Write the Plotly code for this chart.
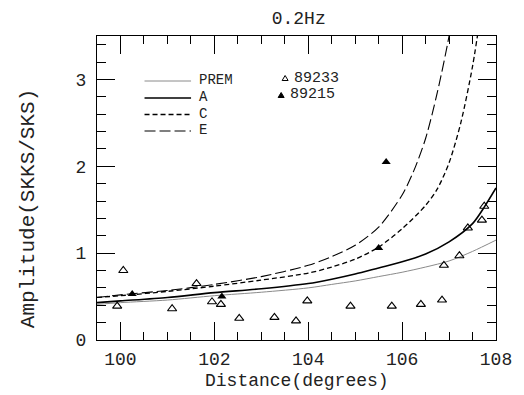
import plotly.graph_objects as go

# ---- data ----
dist_prem = [99.5, 100, 101, 102, 103, 104, 104.5, 105, 105.5, 106, 106.5, 107, 107.5, 108]
amp_prem = [0.41, 0.43, 0.46, 0.51, 0.55, 0.60, 0.64, 0.68, 0.73, 0.78, 0.84, 0.91, 1.02, 1.15]

dist_a = [99.5, 100, 101, 102, 103, 104, 104.5, 105, 105.5, 106, 106.5, 107, 107.5, 107.75, 108]
amp_a = [0.43, 0.45, 0.49, 0.545, 0.59, 0.65, 0.70, 0.76, 0.83, 0.90, 0.99, 1.13, 1.34, 1.53, 1.75]

dist_c = [99.5, 100, 101, 102, 103, 104, 104.5, 105, 105.5, 106, 106.5, 106.75, 107, 107.25, 107.5, 107.7]
amp_c = [0.49, 0.51, 0.56, 0.62, 0.69, 0.77, 0.84, 0.93, 1.07, 1.28, 1.55, 1.74, 2.04, 2.50, 3.15, 3.85]

dist_e = [99.5, 100, 101, 102, 103, 104, 104.5, 105, 105.5, 106, 106.25, 106.5, 106.75, 107, 107.1]
amp_e = [0.49, 0.52, 0.57, 0.64, 0.73, 0.86, 0.96, 1.09, 1.30, 1.67, 1.95, 2.32, 2.85, 3.50, 3.85]

dist_89233 = [99.93, 100.06, 101.1, 101.62, 101.95, 102.14, 102.53, 103.28, 103.74, 103.98,
              104.9, 105.78, 106.4, 106.85, 106.89, 107.22, 107.4, 107.7, 107.75]
amp_89233 = [0.39, 0.80, 0.36, 0.65, 0.44, 0.41, 0.25, 0.26, 0.22, 0.45,
             0.39, 0.39, 0.41, 0.46, 0.86, 0.97, 1.29, 1.38, 1.54]

dist_89215 = [100.25, 102.16, 105.5, 105.66]
amp_89215 = [0.53, 0.50, 1.06, 2.05]

line_names = ["PREM", "A", "C", "E"]
event_names = ["89233", "89215"]

FONT = "Liberation Mono"
TXT = "#222"

# plot area in pixels (for placing the hand-made legend)
W, H = 524, 395
ML, MR, MT, MB = 97, 24, 36, 55
PW, PH = W - ML - MR, H - MT - MB


def px(xp):
    return (xp - ML) / PW


def py(yp):
    return (H - MB - yp) / PH


styles = [
    dict(color="#8a8a8a", width=1),
    dict(color="black", width=1.6),
    dict(color="black", width=1.3, dash="5px,3px"),
    dict(color="black", width=1.1, dash="11px,4px"),
]

fig = go.Figure()
for name, xs, ys, st in zip(line_names, [dist_prem, dist_a, dist_c, dist_e],
                            [amp_prem, amp_a, amp_c, amp_e], styles):
    fig.add_trace(go.Scatter(x=xs, y=ys, mode="lines", name=name,
                             line=dict(shape="spline", smoothing=0.8, **st)))
fig.add_trace(go.Scatter(x=dist_89233, y=amp_89233, mode="markers", name=event_names[0],
                         marker=dict(symbol="triangle-up-open", size=8, color="black", line=dict(width=1.1))))
fig.add_trace(go.Scatter(x=dist_89215, y=amp_89215, mode="markers", name=event_names[1],
                         marker=dict(symbol="triangle-up", size=8, color="black")))

shapes = []
annotations = []
# legend for the model curves
row_y = [81, 98, 114.5, 131]
for name, st, yy in zip(line_names, styles, row_y):
    shapes.append(dict(type="line", xref="paper", yref="paper", x0=px(145), x1=px(192),
                       y0=py(yy), y1=py(yy), line=st))
    annotations.append(dict(text=name, xref="paper", yref="paper", x=px(199), y=py(yy - 1),
                            xanchor="left", yanchor="middle", showarrow=False, borderpad=0,
                            font=dict(family=FONT, size=14, color=TXT)))
# legend for the events
tri = "M-3,-2.5 L3,-2.5 L0,2.5 Z"
shapes.append(dict(type="path", xref="paper", yref="paper", xsizemode="pixel", ysizemode="pixel",
                   xanchor=px(287), yanchor=py(78), path=tri,
                   line=dict(color="black", width=1), fillcolor="white"))
shapes.append(dict(type="path", xref="paper", yref="paper", xsizemode="pixel", ysizemode="pixel",
                   xanchor=px(283), yanchor=py(95), path=tri,
                   line=dict(color="black", width=1), fillcolor="black"))
annotations.append(dict(text=event_names[0], xref="paper", yref="paper", x=px(295), y=py(78.5),
                        xanchor="left", yanchor="middle", showarrow=False, borderpad=0,
                        font=dict(family=FONT, size=15, color=TXT)))
annotations.append(dict(text=event_names[1], xref="paper", yref="paper", x=px(291), y=py(95),
                        xanchor="left", yanchor="middle", showarrow=False, borderpad=0,
                        font=dict(family=FONT, size=15, color=TXT)))
# axis titles
annotations.append(dict(text="Distance(degrees)", xref="paper", yref="paper", x=0.5, y=py(381),
                        xanchor="center", yanchor="middle", showarrow=False, borderpad=0,
                        font=dict(family=FONT, size=18, color=TXT)))
annotations.append(dict(text="Amplitude(SKKS/SKS)", xref="paper", yref="paper", x=px(28), y=py(208.5),
                        xanchor="center", yanchor="middle", showarrow=False, textangle=-90, borderpad=0,
                        font=dict(family=FONT, size=21, color=TXT)))

fig.update_layout(
    width=W, height=H,
    margin=dict(l=ML, r=MR, t=MT, b=MB),
    paper_bgcolor="white", plot_bgcolor="white",
    font=dict(family=FONT, size=18, color=TXT),
    title=dict(text="0.2Hz", x=0.57, xanchor="center", y=0.955, yanchor="middle",
               font=dict(family=FONT, size=18, color=TXT)),
    showlegend=False,
    shapes=shapes,
    annotations=annotations,
)

axis_common = dict(showgrid=False, zeroline=False, showline=True, linecolor="black", linewidth=1,
                   mirror="ticks", ticks="inside", tickcolor="black", tickwidth=1)
fig.update_xaxes(range=[99.5, 108], dtick=2, tick0=100, ticklen=18, ticklabelstandoff=2,
                 minor=dict(dtick=0.5, ticks="inside", ticklen=8, tickcolor="black"),
                 tickfont=dict(family=FONT, size=18, color=TXT),
                 **axis_common)
fig.update_yaxes(range=[0, 3.5], dtick=1, tick0=0, ticklen=18, ticklabelstandoff=6,
                 minor=dict(dtick=0.2, ticks="inside", ticklen=9, tickcolor="black"),
                 tickfont=dict(family=FONT, size=18, color=TXT),
                 **axis_common)

fig.write_html("out.html")
